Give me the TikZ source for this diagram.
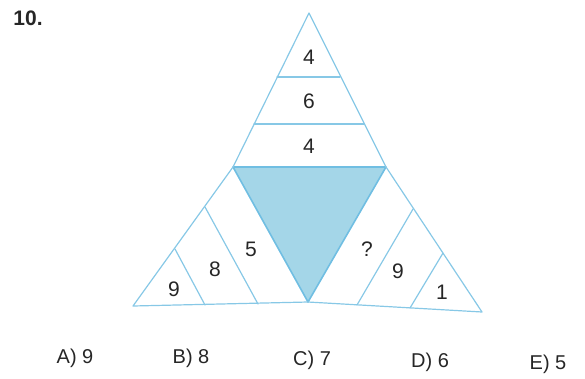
\documentclass[tikz,border=0pt]{standalone}
\usepackage{fontspec}
\setmainfont{Liberation Sans}
\definecolor{edge}{RGB}{135,200,230}
\definecolor{shade}{RGB}{164,214,232}
\definecolor{shadeedge}{RGB}{112,190,226}
\definecolor{ink}{RGB}{38,38,38}
\begin{document}
\begin{tikzpicture}[x=1pt,y=-1pt,
  edgeline/.style={draw=edge,line width=1.2pt,line join=round,line cap=round},
  innertri/.style={fill=shade,draw=shadeedge,line width=1.6pt,line join=round},
  num/.style={font=\fontsize{21}{21}\selectfont,text=ink,inner sep=0pt},
  ans/.style={font=\fontsize{20}{20}\selectfont,text=ink,inner sep=0pt},
  title/.style={font=\fontsize{21}{21}\selectfont\bfseries,text=ink,inner sep=0pt}]
\useasboundingbox (0,0) rectangle (585,378);
% corners
\coordinate (apex) at (309,13);
\coordinate (L) at (233,167);
\coordinate (R) at (386,167);
\coordinate (BL) at (133,306);
\coordinate (BR) at (482,312);
\coordinate (M) at (308,302);
% strip end points
\coordinate (t1l) at (277,77);
\coordinate (t1r) at (340,77);
\coordinate (t2l) at (254,124);
\coordinate (t2r) at (364,124);
\coordinate (la1) at (175,249);
\coordinate (la2) at (205,305);
\coordinate (lb1) at (205,207);
\coordinate (lb2) at (258,304);
\coordinate (rc1) at (413,209);
\coordinate (rc2) at (357,305);
\coordinate (rd1) at (443,253);
\coordinate (rd2) at (410,308);
% shaded triangle
\path[innertri] (L) -- (R) -- (M) -- cycle;
% outline
\draw[edgeline] (apex) -- (L) -- (BL) -- (M) -- (BR) -- (R) -- cycle;
\draw[edgeline] (t1l) -- (t1r);
\draw[edgeline] (t2l) -- (t2r);
\draw[edgeline] (la1) -- (la2);
\draw[edgeline] (lb1) -- (lb2);
\draw[edgeline] (rc1) -- (rc2);
\draw[edgeline] (rd1) -- (rd2);
% numbers
\node[num] (n1) at (309,57) {4};
\node[num] (n2) at (309,101) {6};
\node[num] (n3) at (309,146) {4};
\node[num] (n4) at (174,289) {9};
\node[num] (n5) at (215,269) {8};
\node[num] (n6) at (251,249) {5};
\node[num] (n7) at (367,249) {?};
\node[num] (n8) at (398,271) {9};
\node[num] (n9) at (442,292) {1};
% title and answers
\node[title] (q) at (28,18) {10.};
\node[ans] (a) at (75,358) {A) 9};
\node[ans] (b) at (191,358) {B) 8};
\node[ans] (c) at (312,360) {C) 7};
\node[ans] (d) at (430,362) {D) 6};
\node[ans] (e) at (548,364) {E) 5};
\end{tikzpicture}
\end{document}
